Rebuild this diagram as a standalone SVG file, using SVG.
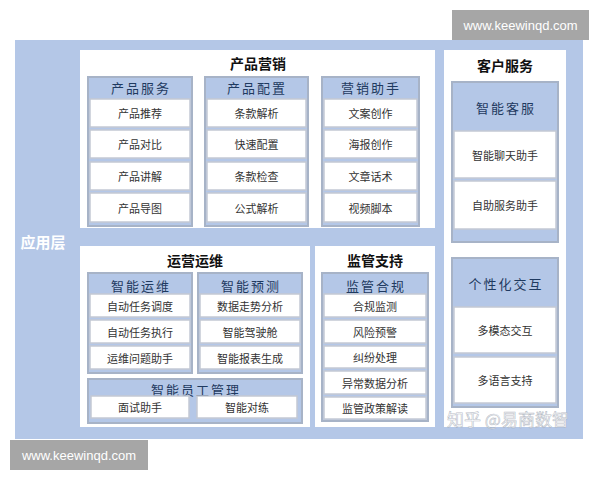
<svg xmlns="http://www.w3.org/2000/svg" width="600" height="480" viewBox="0 0 600 480">
<style>
text{font-family:"Noto Sans CJK SC","Noto Sans",sans-serif;text-anchor:middle;dominant-baseline:central}
.bg{fill:#b4c7e7}
.panel{fill:#ffffff}
.col{fill:#b4c7e7;stroke:#a7b3c7;stroke-width:2}
.item{fill:#ffffff;stroke:#c3c9d4;stroke-width:1.5}
.title{font-size:14px;font-weight:bold;fill:#111111}
.head{font-size:13px;fill:#1f3a60;letter-spacing:2px}
.it{font-size:11px;fill:#333333}
.wm{fill:#a6a6a6}
.wmt{font-family:"Liberation Sans",Arial,sans-serif;font-size:13px;fill:#ffffff}
</style>
<rect x="0" y="0" width="600" height="480" fill="#ffffff"/>
<rect class="bg" x="15" y="40" width="568" height="399"/>
<text x="43" y="241" style="font-size:15px;font-weight:bold;fill:#ffffff">应用层</text>

<g id="panel-product-marketing">
<rect class="panel" x="80" y="50" width="355" height="178"/>
<text class="title" x="258" y="63">产品营销</text>
</g>
<g id="col-product-service">
<rect class="col" x="88" y="77" width="104" height="149"/>
<text class="head" x="141" y="87">产品服务</text>
<rect class="item" x="90" y="99" width="100" height="28"/><text class="it" x="140" y="113">产品推荐</text>
<rect class="item" x="90" y="130" width="100" height="28"/><text class="it" x="140" y="144">产品对比</text>
<rect class="item" x="90" y="162" width="100" height="28"/><text class="it" x="140" y="176">产品讲解</text>
<rect class="item" x="90" y="193" width="100" height="29"/><text class="it" x="140" y="207.5">产品导图</text>
</g>
<g id="col-product-config">
<rect class="col" x="205" y="77" width="103" height="149"/>
<text class="head" x="257" y="87">产品配置</text>
<rect class="item" x="207" y="99" width="99" height="28"/><text class="it" x="256.5" y="113">条款解析</text>
<rect class="item" x="207" y="130" width="99" height="28"/><text class="it" x="256.5" y="144">快速配置</text>
<rect class="item" x="207" y="162" width="99" height="28"/><text class="it" x="256.5" y="176">条款检查</text>
<rect class="item" x="207" y="193" width="99" height="29"/><text class="it" x="256.5" y="207.5">公式解析</text>
</g>
<g id="col-marketing-assistant">
<rect class="col" x="322" y="77" width="97" height="149"/>
<text class="head" x="371" y="87">营销助手</text>
<rect class="item" x="324" y="99" width="93" height="28"/><text class="it" x="370.5" y="113">文案创作</text>
<rect class="item" x="324" y="130" width="93" height="28"/><text class="it" x="370.5" y="144">海报创作</text>
<rect class="item" x="324" y="162" width="93" height="28"/><text class="it" x="370.5" y="176">文章话术</text>
<rect class="item" x="324" y="193" width="93" height="29"/><text class="it" x="370.5" y="207.5">视频脚本</text>
</g>

<g id="panel-customer-service">
<rect class="panel" x="444" y="50" width="122" height="377"/>
<text class="title" x="505" y="65">客户服务</text>
</g>
<g id="col-smart-cs">
<rect class="col" x="452" y="82" width="106" height="160"/>
<text class="head" x="506" y="107">智能客服</text>
<rect class="item" x="454" y="131" width="102" height="47"/><text class="it" x="505" y="154.5">智能聊天助手</text>
<rect class="item" x="454" y="181" width="102" height="48"/><text class="it" x="505" y="205">自助服务助手</text>
</g>
<g id="col-personal">
<rect class="col" x="452" y="258" width="106" height="149"/>
<text class="head" x="506" y="283">个性化交互</text>
<rect class="item" x="454" y="307" width="102" height="46"/><text class="it" x="505" y="330">多模态交互</text>
<rect class="item" x="454" y="357" width="102" height="46"/><text class="it" x="505" y="380">多语言支持</text>
</g>

<g id="panel-ops">
<rect class="panel" x="80" y="246" width="230" height="181"/>
<text class="title" x="195" y="260">运营运维</text>
</g>
<g id="col-smart-ops">
<rect class="col" x="88" y="273" width="104" height="100"/>
<text class="head" x="141" y="285">智能运维</text>
<rect class="item" x="90" y="294" width="100" height="23"/><text class="it" x="140" y="305.5">自动任务调度</text>
<rect class="item" x="90" y="320" width="100" height="23"/><text class="it" x="140" y="331.5">自动任务执行</text>
<rect class="item" x="90" y="346" width="100" height="23"/><text class="it" x="140" y="357.5">运维问题助手</text>
</g>
<g id="col-smart-forecast">
<rect class="col" x="198" y="273" width="104" height="100"/>
<text class="head" x="251" y="285">智能预测</text>
<rect class="item" x="200" y="294" width="100" height="23"/><text class="it" x="250" y="305.5">数据走势分析</text>
<rect class="item" x="200" y="320" width="100" height="23"/><text class="it" x="250" y="331.5">智能驾驶舱</text>
<rect class="item" x="200" y="346" width="100" height="23"/><text class="it" x="250" y="357.5">智能报表生成</text>
</g>
<g id="col-staff">
<rect class="col" x="88" y="379" width="214" height="44"/>
<text class="head" x="196" y="389">智能员工管理</text>
<rect class="item" x="91" y="396" width="98" height="22"/><text class="it" x="140" y="407">面试助手</text>
<rect class="item" x="197" y="396" width="100" height="22"/><text class="it" x="247" y="407">智能对练</text>
</g>

<g id="panel-regulation">
<rect class="panel" x="315" y="246" width="120" height="181"/>
<text class="title" x="375" y="260">监管支持</text>
</g>
<g id="col-compliance">
<rect class="col" x="322" y="273" width="106" height="148"/>
<text class="head" x="376" y="285">监管合规</text>
<rect class="item" x="324" y="294" width="102" height="23"/><text class="it" x="375" y="305.5">合规监测</text>
<rect class="item" x="324" y="320" width="102" height="23"/><text class="it" x="375" y="331.5">风险预警</text>
<rect class="item" x="324" y="346" width="102" height="22"/><text class="it" x="375" y="357">纠纷处理</text>
<rect class="item" x="324" y="371" width="102" height="23"/><text class="it" x="375" y="382.5">异常数据分析</text>
<rect class="item" x="324" y="397" width="102" height="22"/><text class="it" x="375" y="408">监管政策解读</text>
</g>

<g id="connectors"></g>

<g id="watermarks">
<rect class="wm" x="452" y="10" width="137" height="30"/>
<text class="wmt" x="520.5" y="25">www.keewinqd.com</text>
<rect class="wm" x="10" y="440" width="138" height="30"/>
<text class="wmt" x="79" y="455">www.keewinqd.com</text>
<text x="508" y="418" style="font-size:17px;fill:#ffffff;fill-opacity:0.75;stroke:#9aa3b0;stroke-width:0.6;stroke-opacity:0.7">知乎 @易商数智</text>
</g>
</svg>
